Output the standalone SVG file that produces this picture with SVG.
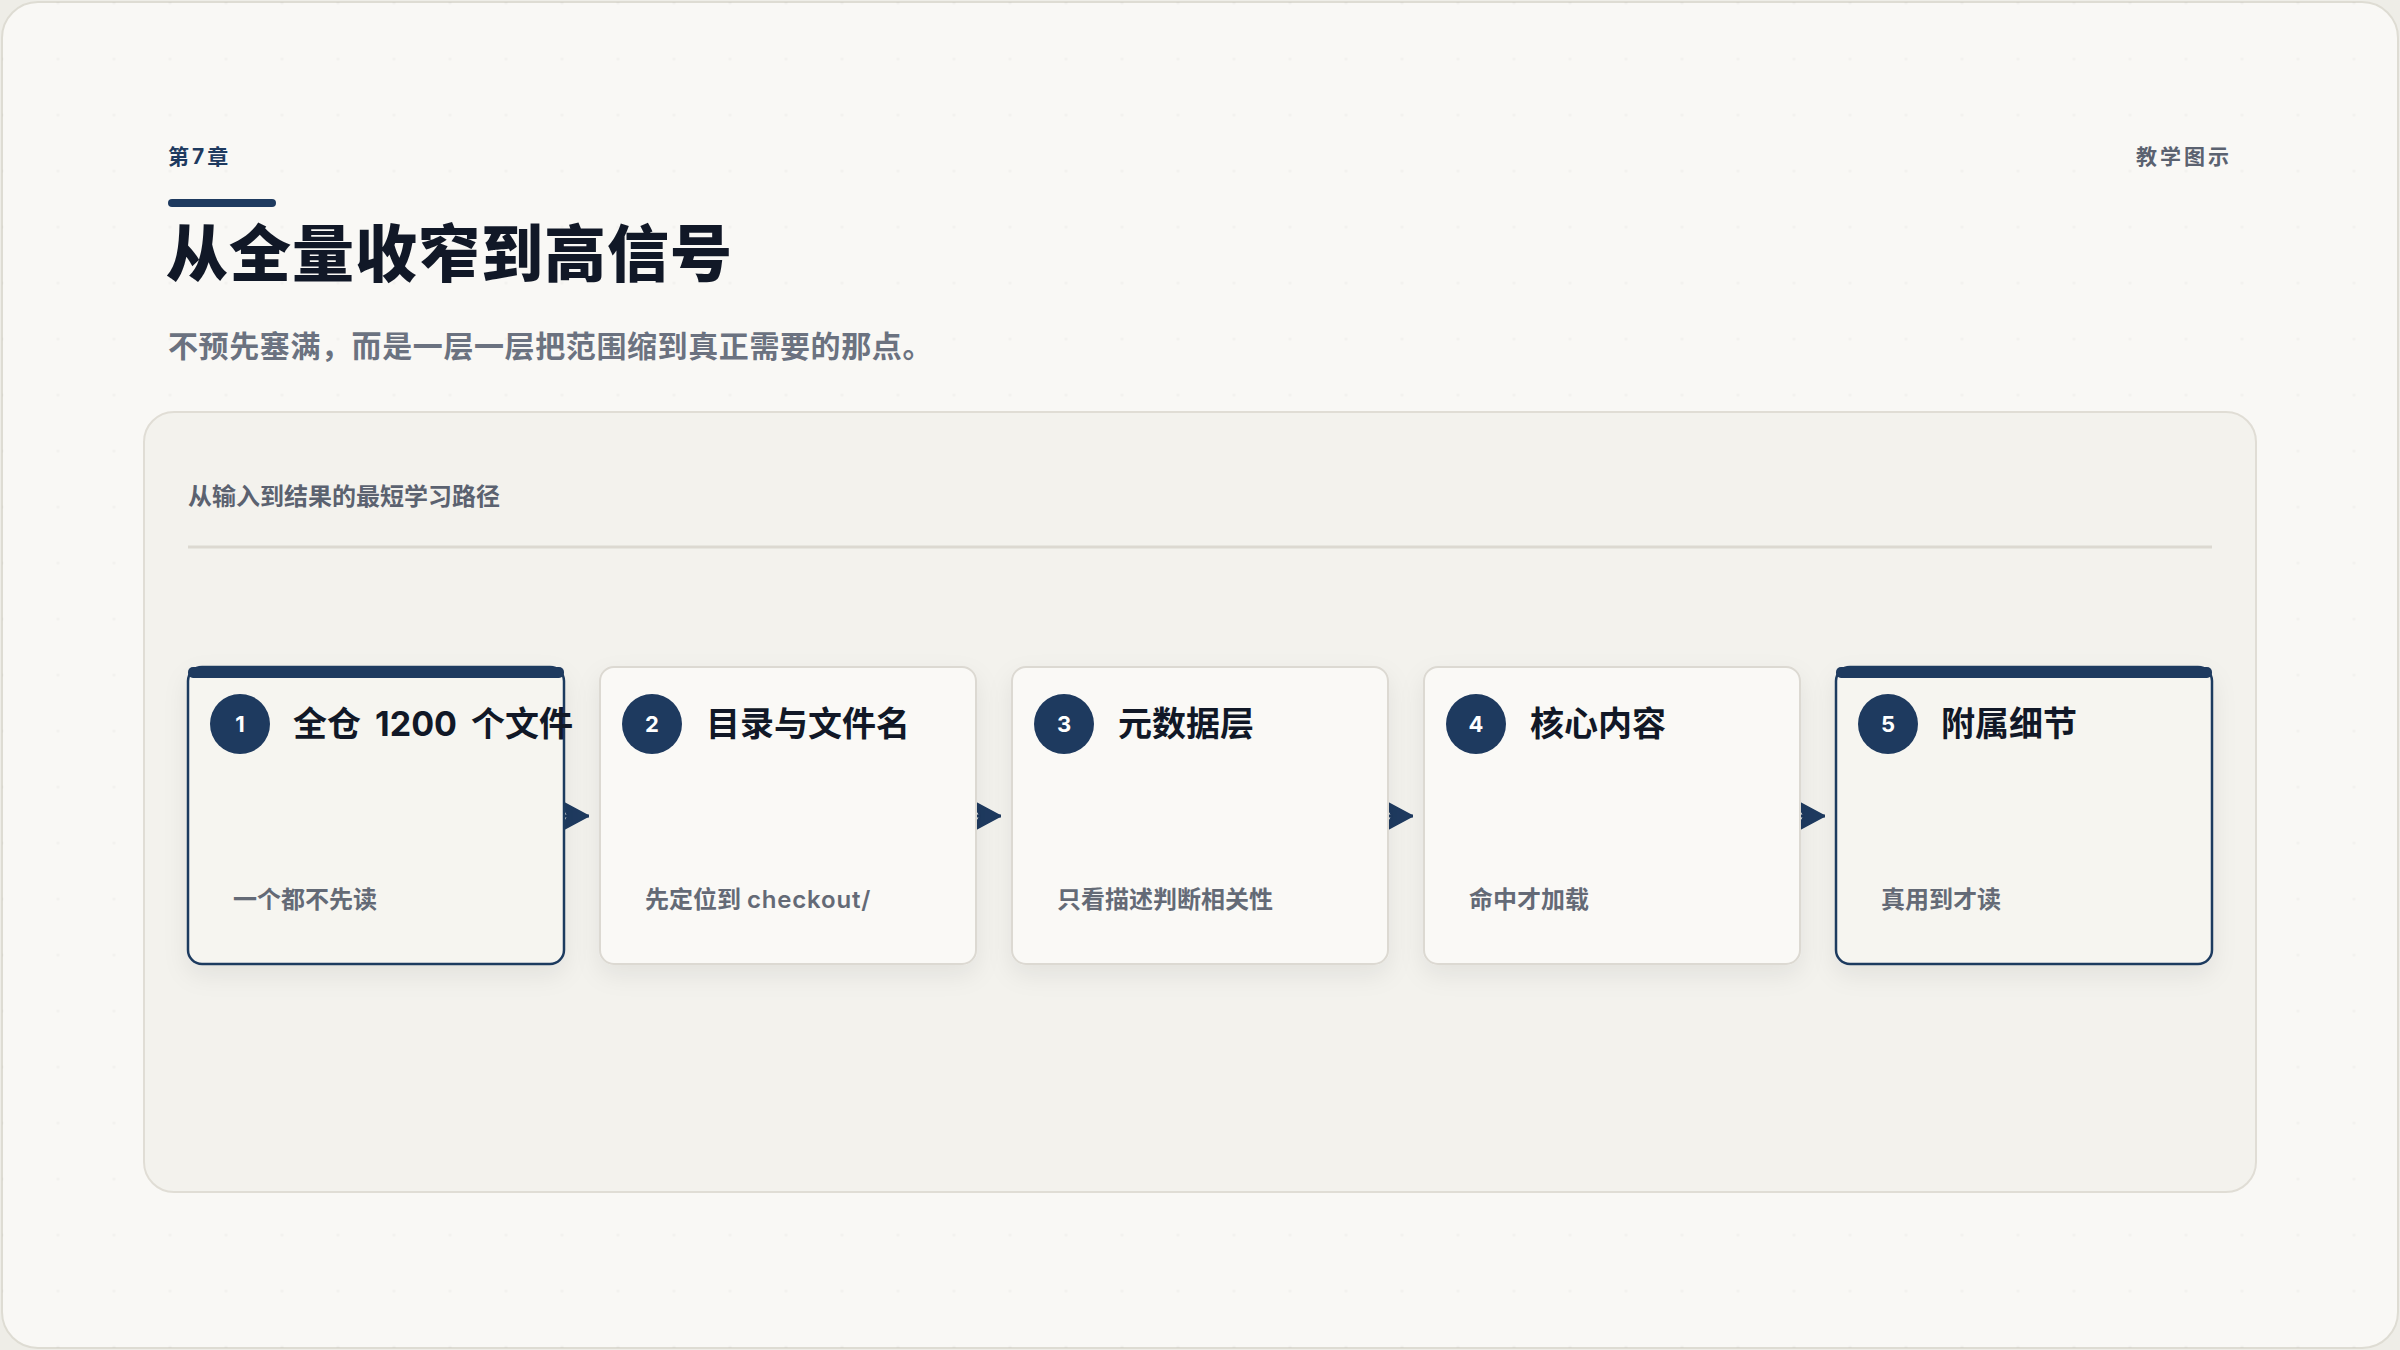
<svg xmlns="http://www.w3.org/2000/svg" width="2400" height="1350" viewBox="0 0 2400 1350">
  <defs>
    <style>
      .t { font-family: "Inter", "Noto Sans CJK SC", "Noto Sans", sans-serif; }
      .chapter { font-size: 21px; font-weight: 700; fill: #1e3a5f; letter-spacing: 3px; }
      .tag { font-size: 21px; font-weight: 700; fill: #5b6270; letter-spacing: 3px; }
      .title { font-size: 62px; font-weight: 900; fill: #111827; letter-spacing: 1px; }
      .sub { font-size: 30px; font-weight: 600; fill: #6b7280; letter-spacing: 0.6px; }
      .plabel { font-size: 24px; font-weight: 700; fill: #5b6270; }
      .card { fill: #faf9f6; stroke: #dcd9d2; stroke-width: 2; }
      .card.hl { fill: #f6f5f0; stroke: #1e3a5f; stroke-width: 2.5; }
      .bar { fill: #1e3a5f; }
      .badge { fill: #1e3a5f; }
      .num { font-size: 22px; font-weight: 700; fill: #ffffff; text-anchor: middle; }
      .ctitle { font-size: 34px; font-weight: 700; fill: #111827; word-spacing: 6px; }
      .cdesc { font-size: 24px; font-weight: 600; fill: #646a76; }
      .lat { letter-spacing: 0.8px; }
      .conn { stroke: #1e3a5f; stroke-width: 3; fill: none; }
    </style>
    <pattern id="dots" x="0" y="0" width="56" height="56" patternUnits="userSpaceOnUse">
      <circle cx="2" cy="3" r="1.6" fill="#000" fill-opacity="0.025"/>
    </pattern>
    <filter id="shadow" x="-20%" y="-20%" width="140%" height="150%">
      <feDropShadow dx="0" dy="10" stdDeviation="12" flood-color="#000" flood-opacity="0.07"/>
    </filter>
    <marker id="arr" viewBox="0 0 30 32" refX="30" refY="16" markerWidth="30" markerHeight="32" markerUnits="userSpaceOnUse" orient="auto">
      <path d="M0,0 L30,16 L0,32 L9,16 Z" fill="#1e3a5f" stroke="#1e3a5f" stroke-width="1.5" stroke-linejoin="round"/>
    </marker>
  </defs>

  <rect x="0" y="0" width="2400" height="1350" fill="#eeede7"/>
  <rect x="2" y="2" width="2396" height="1346" rx="36" fill="#f9f8f5" stroke="#dedcd3" stroke-width="2"/>
  <rect x="2" y="2" width="2396" height="1346" rx="36" fill="url(#dots)"/>

  <g id="header">
    <text class="t chapter" x="168" y="164">第7章</text>
    <text class="t tag" x="2232" y="164" text-anchor="end">教学图示</text>
    <rect x="168" y="199" width="108" height="8" rx="4" fill="#1e3a5f"/>
    <text class="t title" x="166" y="277">从全量收窄到高信号</text>
    <text class="t sub" x="168" y="357">不预先塞满，而是一层一层把范围缩到真正需要的那点。</text>
  </g>

  <g id="panel">
    <rect x="144" y="412" width="2112" height="780" rx="30" fill="#f3f2ed" stroke="#e0ddd5" stroke-width="2"/>
    <text class="t plabel" x="188" y="505">从输入到结果的最短学习路径</text>
    <line x1="188" y1="547" x2="2212" y2="547" stroke="#dcd9d1" stroke-width="3"/>
  </g>

  <g id="connectors">
    <line class="conn" x1="558" y1="816" x2="589" y2="816" marker-end="url(#arr)"/>
    <line class="conn" x1="970" y1="816" x2="1001" y2="816" marker-end="url(#arr)"/>
    <line class="conn" x1="1382" y1="816" x2="1413" y2="816" marker-end="url(#arr)"/>
    <line class="conn" x1="1794" y1="816" x2="1825" y2="816" marker-end="url(#arr)"/>
  </g>

  <g id="step1">
    <rect class="card hl" x="188" y="667" width="376" height="297" rx="14" filter="url(#shadow)"/>
    <rect class="bar" x="188" y="667" width="376" height="11" rx="5"/>
    <circle class="badge" cx="240" cy="724" r="30"/>
    <text class="t num" x="240" y="732">1</text>
    <text class="t ctitle" x="293" y="736">全仓 1200 个文件</text>
    <text class="t cdesc" x="233" y="908">一个都不先读</text>
  </g>

  <g id="step2">
    <rect class="card" x="600" y="667" width="376" height="297" rx="14" filter="url(#shadow)"/>
    <circle class="badge" cx="652" cy="724" r="30"/>
    <text class="t num" x="652" y="732">2</text>
    <text class="t ctitle" x="706" y="736">目录与文件名</text>
    <text class="t cdesc" x="645" y="908">先定位到 <tspan class="lat">checkout/</tspan></text>
  </g>

  <g id="step3">
    <rect class="card" x="1012" y="667" width="376" height="297" rx="14" filter="url(#shadow)"/>
    <circle class="badge" cx="1064" cy="724" r="30"/>
    <text class="t num" x="1064" y="732">3</text>
    <text class="t ctitle" x="1118" y="736">元数据层</text>
    <text class="t cdesc" x="1057" y="908">只看描述判断相关性</text>
  </g>

  <g id="step4">
    <rect class="card" x="1424" y="667" width="376" height="297" rx="14" filter="url(#shadow)"/>
    <circle class="badge" cx="1476" cy="724" r="30"/>
    <text class="t num" x="1476" y="732">4</text>
    <text class="t ctitle" x="1530" y="736">核心内容</text>
    <text class="t cdesc" x="1469" y="908">命中才加载</text>
  </g>

  <g id="step5">
    <rect class="card hl" x="1836" y="667" width="376" height="297" rx="14" filter="url(#shadow)"/>
    <rect class="bar" x="1836" y="667" width="376" height="11" rx="5"/>
    <circle class="badge" cx="1888" cy="724" r="30"/>
    <text class="t num" x="1888" y="732">5</text>
    <text class="t ctitle" x="1941" y="736">附属细节</text>
    <text class="t cdesc" x="1881" y="908">真用到才读</text>
  </g>
</svg>
